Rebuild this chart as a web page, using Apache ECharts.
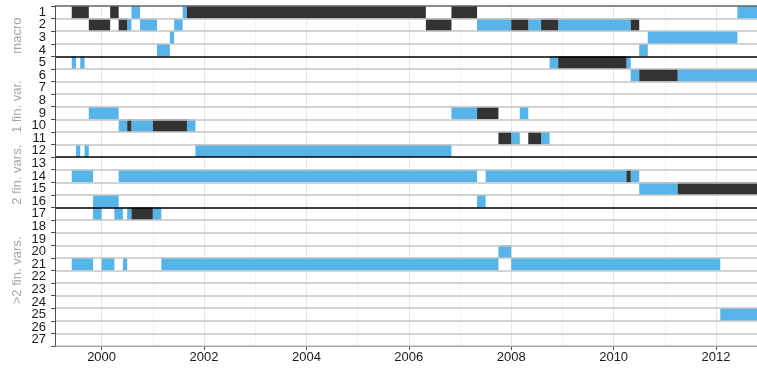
<!DOCTYPE html>
<html>
<head>
<meta charset="utf-8">
<script src="https://cdn.jsdelivr.net/npm/echarts@6/dist/echarts.min.js"></script>
<style>
  html, body { margin: 0; padding: 0; background: #ffffff; }
  #chart { width: 757px; height: 369px; }
</style>
</head>
<body>
<div id="chart"></div>
<script>
// Row labels (one row per model)
const rowLabels = ['1','2','3','4','5','6','7','8','9','10','11','12','13','14','15','16','17','18','19','20','21','22','23','24','25','26','27'];

// Selected periods: [row, start, end] in decimal years
const blueSpans = [
  [1, 2000.583, 2000.750], [1, 2001.583, 2001.667], [1, 2012.417, 2012.8],
  [2, 2000.500, 2000.583], [2, 2000.750, 2001.083], [2, 2001.417, 2001.583],
  [2, 2007.333, 2008.000], [2, 2008.333, 2008.583], [2, 2008.917, 2010.333],
  [3, 2001.333, 2001.417], [3, 2010.667, 2012.417],
  [4, 2001.083, 2001.333], [4, 2010.500, 2010.667],
  [5, 1999.417, 1999.500], [5, 1999.583, 1999.667], [5, 2008.750, 2008.917], [5, 2010.250, 2010.333],
  [6, 2010.333, 2010.500], [6, 2011.250, 2012.8],
  [9, 1999.750, 2000.333], [9, 2006.833, 2007.333], [9, 2008.167, 2008.333],
  [10, 2000.333, 2000.500], [10, 2000.583, 2001.000], [10, 2001.667, 2001.833],
  [11, 2008.000, 2008.167], [11, 2008.583, 2008.750],
  [12, 1999.500, 1999.583], [12, 1999.667, 1999.750], [12, 2001.833, 2006.833],
  [14, 1999.417, 1999.833], [14, 2000.333, 2007.333], [14, 2007.500, 2010.250], [14, 2010.333, 2010.500],
  [15, 2010.500, 2011.250],
  [16, 1999.833, 2000.333], [16, 2007.333, 2007.500],
  [17, 1999.833, 2000.000], [17, 2000.250, 2000.417], [17, 2000.500, 2000.583], [17, 2001.000, 2001.167],
  [20, 2007.750, 2008.000],
  [21, 1999.417, 1999.833], [21, 2000.000, 2000.250], [21, 2000.417, 2000.500],
  [21, 2001.167, 2007.750], [21, 2008.000, 2012.083],
  [25, 2012.083, 2012.8]
];

const darkSpans = [
  [1, 1999.417, 1999.750], [1, 2000.167, 2000.333], [1, 2001.667, 2006.333], [1, 2006.833, 2007.333],
  [2, 1999.750, 2000.167], [2, 2000.333, 2000.500], [2, 2006.333, 2006.833],
  [2, 2008.000, 2008.333], [2, 2008.583, 2008.917], [2, 2010.333, 2010.500],
  [5, 2008.917, 2010.250],
  [6, 2010.500, 2011.250],
  [9, 2007.333, 2007.750],
  [10, 2000.500, 2000.583], [10, 2001.000, 2001.667],
  [11, 2007.750, 2008.000], [11, 2008.333, 2008.583],
  [14, 2010.250, 2010.333],
  [15, 2011.250, 2012.8],
  [17, 2000.583, 2001.000]
];

// Row groups
const groupNames = ['macro', '1 fin. var.', '2 fin. vars.', '>2 fin. vars.'];
const groupFirstRow = [1, 5, 13, 17];
const groupLastRow = [4, 12, 16, 27];
const groupLabelRow = [2.85, 8.5, 13.9, 21.5];

const xMin = 1999.09;
const xMax = 2012.8;

const BLUE = '#56B4E9';
const DARK = '#333333';
const FONT = '"Liberation Sans", Arial, sans-serif';

// Split line colours: top border, black line after each group, light grey otherwise
const splitColors = [];
for (let i = 0; i <= rowLabels.length; i++) {
  if (i === 0) splitColors.push('#666666');
  else if (groupLastRow.indexOf(i) >= 0 && i < rowLabels.length) splitColors.push('#000000');
  else splitColors.push('#c4c4c4');
}

function spanRenderer(color) {
  return function (params, api) {
    const row = api.value(0);
    const p0 = api.coord([api.value(1), row]);
    const p1 = api.coord([api.value(2), row]);
    const h = api.size([0, 1])[1];
    const cs = params.coordSys;
    const shape = echarts.graphic.clipRectByRect(
      { x: p0[0], y: p0[1] - h / 2, width: p1[0] - p0[0], height: h },
      { x: cs.x, y: cs.y, width: cs.width, height: cs.height }
    );
    return shape && { type: 'rect', shape: shape, style: { fill: color } };
  };
}

const toData = spans => spans.map(s => [s[0] - 1, s[1], s[2]]);

const chart = echarts.init(document.getElementById('chart'), null, { renderer: 'canvas' });

chart.setOption({
  animation: false,
  backgroundColor: '#ffffff',
  grid: { left: 55, right: 0, top: 6, bottom: 23, outerBoundsMode: 'none' },
  xAxis: [
    {
      // even years: labels, ticks and main grid lines
      type: 'value', min: xMin, max: xMax, splitNumber: 7, position: 'bottom', z: 1,
      axisLine: { show: true, lineStyle: { color: '#4d4d4d', width: 1 } },
      axisTick: { show: true, length: 4, lineStyle: { color: '#4d4d4d', width: 1 } },
      axisLabel: {
        show: true, margin: 5, color: '#1a1a1a', fontSize: 13, fontFamily: FONT,
        showMinLabel: false, showMaxLabel: false,
        formatter: v => (Math.abs(v - Math.round(v)) < 1e-6 ? String(Math.round(v)) : '')
      },
      splitLine: { show: true, showMinLine: false, showMaxLine: false, lineStyle: { color: '#e6e6e6', width: 1 } }
    },
    {
      // every year: faint grid lines
      type: 'value', min: xMin, max: xMax, splitNumber: 14, position: 'top', z: 0,
      axisLine: { show: false }, axisTick: { show: false }, axisLabel: { show: false },
      splitLine: { show: true, showMinLine: false, showMaxLine: false, lineStyle: { color: '#f3f3f3', width: 1 } }
    }
  ],
  yAxis: {
    type: 'category', data: rowLabels, inverse: true, boundaryGap: true, z: 10,
    axisLine: { show: true, lineStyle: { color: '#4d4d4d', width: 1 } },
    axisTick: { show: true, interval: 0, length: 4, lineStyle: { color: '#4d4d4d', width: 1 } },
    axisLabel: { show: true, interval: 0, margin: 9, color: '#1a1a1a', fontSize: 13, fontFamily: FONT, padding: [0, 0, 2, 0] },
    splitLine: { show: true, interval: 0, lineStyle: { color: splitColors, width: 1.5 } }
  },
  series: [
    {
      type: 'custom', name: 'selected', xAxisIndex: 0, yAxisIndex: 0, z: 2,
      renderItem: spanRenderer(BLUE), encode: { x: [1, 2], y: 0 }, data: toData(blueSpans)
    },
    {
      type: 'custom', name: 'selected (sign)', xAxisIndex: 0, yAxisIndex: 0, z: 2,
      renderItem: spanRenderer(DARK), encode: { x: [1, 2], y: 0 }, data: toData(darkSpans)
    }
  ]
});

// Rotated group titles to the left of the row labels
const firstY = chart.convertToPixel({ yAxisIndex: 0 }, 0);
const lastY = chart.convertToPixel({ yAxisIndex: 0 }, rowLabels.length - 1);
const band = (lastY - firstY) / (rowLabels.length - 1);
chart.setOption({
  graphic: groupNames.map((name, i) => ({
    type: 'text',
    x: 17,
    y: firstY + (groupLabelRow[i] - 1) * band,
    rotation: Math.PI / 2,
    style: {
      text: name, fill: '#a6a6a6', fontSize: 13, fontFamily: FONT,
      align: 'center', verticalAlign: 'middle'
    }
  }))
});
</script>
</body>
</html>
